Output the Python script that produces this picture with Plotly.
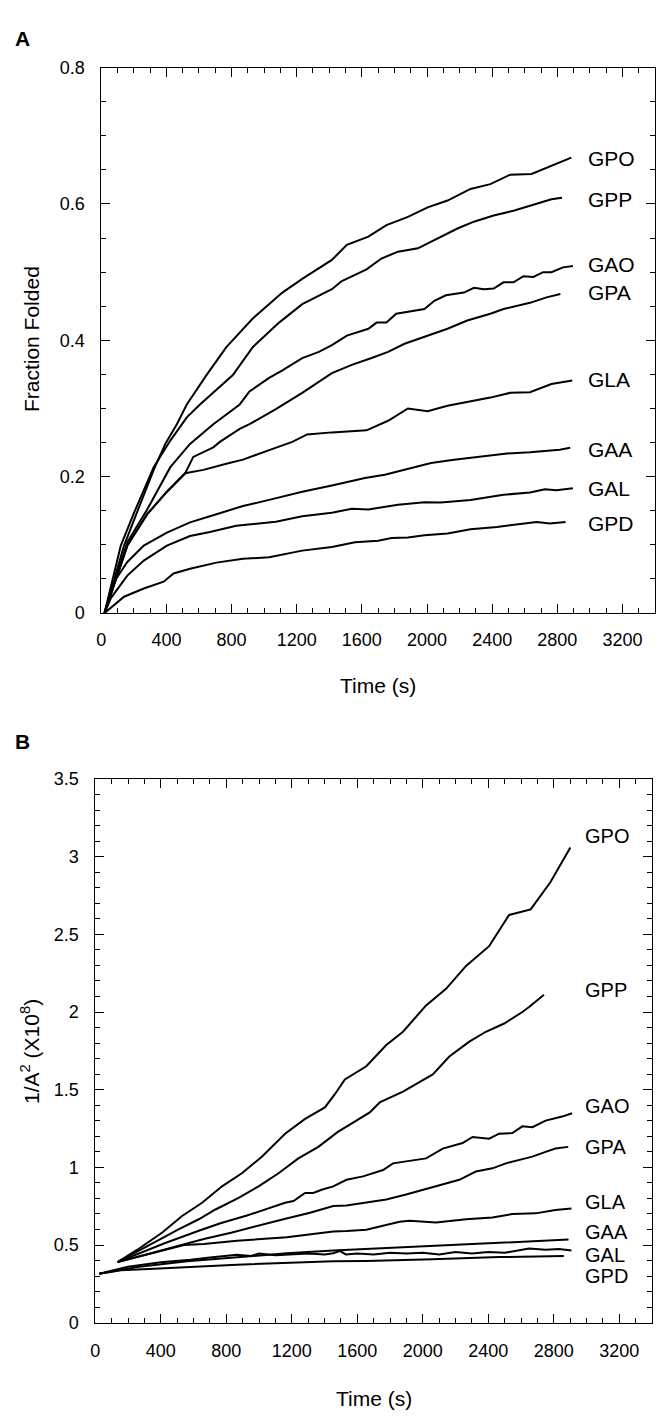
import plotly.graph_objects as go

# ---------------- Panel A: Fraction folded vs time ----------------
names = ["GPO", "GPP", "GAO", "GPA", "GLA", "GAA", "GAL", "GPD"]

a_gpo_t = [20, 140, 241, 322, 393, 464, 525, 646, 768, 930, 1112, 1234, 1416, 1508, 1640, 1751, 1883, 2004, 2126, 2267, 2389, 2511, 2642, 2754, 2886]
a_gpo_v = [0, 0.099, 0.161, 0.21, 0.248, 0.277, 0.306, 0.349, 0.390, 0.432, 0.470, 0.49, 0.518, 0.540, 0.552, 0.569, 0.581, 0.595, 0.605, 0.622, 0.629, 0.643, 0.644, 0.655, 0.668]

a_gpp_t = [20, 120, 201, 322, 424, 525, 606, 808, 930, 1092, 1234, 1416, 1477, 1629, 1720, 1822, 1944, 2065, 2187, 2288, 2409, 2531, 2642, 2764, 2829]
a_gpp_v = [0, 0.099, 0.147, 0.214, 0.253, 0.287, 0.306, 0.349, 0.390, 0.426, 0.453, 0.475, 0.487, 0.504, 0.520, 0.530, 0.535, 0.549, 0.564, 0.574, 0.583, 0.590, 0.598, 0.607, 0.609]

a_gao_t = [20, 160, 282, 424, 545, 688, 850, 910, 1031, 1112, 1234, 1336, 1416, 1508, 1640, 1690, 1751, 1811, 1984, 2045, 2116, 2227, 2288, 2349, 2409, 2470, 2531, 2592, 2653, 2713, 2764, 2835, 2896]
a_gao_v = [0, 0.104, 0.152, 0.214, 0.248, 0.277, 0.306, 0.325, 0.345, 0.356, 0.374, 0.383, 0.393, 0.407, 0.417, 0.426, 0.426, 0.439, 0.446, 0.458, 0.466, 0.470, 0.477, 0.475, 0.476, 0.485, 0.485, 0.494, 0.493, 0.500, 0.500, 0.507, 0.509]

a_gpa_t = [20, 160, 282, 403, 515, 565, 688, 728, 850, 910, 1072, 1234, 1416, 1538, 1660, 1761, 1862, 2004, 2126, 2247, 2389, 2470, 2632, 2734, 2819]
a_gpa_v = [0, 0.099, 0.145, 0.178, 0.205, 0.229, 0.243, 0.251, 0.270, 0.277, 0.299, 0.323, 0.352, 0.364, 0.374, 0.383, 0.395, 0.407, 0.417, 0.429, 0.439, 0.446, 0.455, 0.463, 0.468]

a_gla_t = [20, 160, 282, 403, 515, 627, 768, 870, 1031, 1173, 1264, 1416, 1629, 1761, 1883, 2004, 2126, 2267, 2389, 2511, 2632, 2764, 2892]
a_gla_v = [0, 0.099, 0.145, 0.178, 0.205, 0.210, 0.219, 0.225, 0.239, 0.251, 0.262, 0.265, 0.268, 0.282, 0.300, 0.296, 0.304, 0.310, 0.316, 0.323, 0.324, 0.336, 0.341]

a_gaa_t = [20, 79, 160, 261, 403, 545, 707, 870, 1031, 1234, 1416, 1619, 1741, 1883, 2025, 2166, 2308, 2491, 2632, 2815, 2879]
a_gaa_v = [0, 0.046, 0.075, 0.099, 0.118, 0.133, 0.145, 0.157, 0.166, 0.178, 0.187, 0.198, 0.203, 0.212, 0.220, 0.225, 0.229, 0.234, 0.236, 0.2396, 0.2424]

a_gal_t = [20, 59, 160, 261, 403, 545, 667, 829, 1072, 1234, 1416, 1538, 1640, 1822, 1984, 2085, 2267, 2470, 2632, 2724, 2794, 2896]
a_gal_v = [0, 0.022, 0.055, 0.077, 0.099, 0.113, 0.119, 0.128, 0.134, 0.142, 0.147, 0.153, 0.152, 0.159, 0.1625, 0.162, 0.166, 0.1735, 0.177, 0.1817, 0.180, 0.183]

a_gpd_t = [20, 140, 261, 383, 444, 545, 707, 870, 1031, 1234, 1416, 1558, 1700, 1782, 1883, 1984, 2126, 2267, 2430, 2551, 2673, 2754, 2851]
a_gpd_v = [0, 0.024, 0.036, 0.046, 0.058, 0.065, 0.074, 0.0795, 0.082, 0.0916, 0.097, 0.1037, 0.106, 0.110, 0.111, 0.114, 0.1167, 0.123, 0.1264, 0.130, 0.1336, 0.1312, 0.1336]

a_label_t = 2975
a_label_v = [0.667, 0.606, 0.511, 0.470, 0.342, 0.240, 0.183, 0.1316]

# ---------------- Panel B: 1/A^2 vs time ----------------
b_gpo_t = [136, 257, 409, 530, 652, 774, 895, 1017, 1159, 1281, 1402, 1463, 1524, 1655, 1777, 1879, 2020, 2142, 2264, 2405, 2527, 2659, 2780, 2901]
b_gpo_v = [0.39, 0.47, 0.581, 0.687, 0.772, 0.878, 0.962, 1.069, 1.217, 1.312, 1.386, 1.471, 1.566, 1.651, 1.788, 1.873, 2.043, 2.149, 2.297, 2.424, 2.625, 2.661, 2.837, 3.059]

b_gpp_t = [136, 257, 511, 632, 734, 875, 997, 1119, 1240, 1362, 1479, 1676, 1737, 1879, 2061, 2162, 2284, 2385, 2497, 2608, 2649, 2740]
b_gpp_v = [0.39, 0.459, 0.602, 0.666, 0.729, 0.804, 0.878, 0.962, 1.058, 1.132, 1.227, 1.354, 1.418, 1.488, 1.598, 1.714, 1.809, 1.873, 1.926, 2.000, 2.032, 2.111]

b_gao_t = [136, 257, 419, 632, 764, 926, 1037, 1159, 1210, 1281, 1331, 1382, 1453, 1534, 1635, 1757, 1818, 1919, 2020, 2122, 2243, 2304, 2405, 2466, 2547, 2608, 2669, 2750, 2851, 2912]
b_gao_v = [0.39, 0.44, 0.51, 0.592, 0.640, 0.690, 0.729, 0.772, 0.783, 0.835, 0.835, 0.856, 0.878, 0.920, 0.942, 0.983, 1.026, 1.041, 1.058, 1.121, 1.157, 1.196, 1.185, 1.217, 1.221, 1.264, 1.259, 1.301, 1.327, 1.348]

b_gpa_t = [136, 257, 399, 541, 663, 835, 987, 1149, 1311, 1453, 1534, 1655, 1777, 1898, 2000, 2101, 2223, 2324, 2425, 2507, 2588, 2669, 2750, 2810, 2888]
b_gpa_v = [0.39, 0.425, 0.462, 0.507, 0.539, 0.581, 0.624, 0.666, 0.708, 0.751, 0.755, 0.772, 0.793, 0.825, 0.856, 0.888, 0.920, 0.973, 0.994, 1.026, 1.047, 1.069, 1.100, 1.121, 1.132]

b_gla_t = [136, 257, 399, 541, 663, 865, 1169, 1453, 1534, 1655, 1757, 1858, 1919, 2081, 2264, 2425, 2547, 2689, 2810, 2908]
b_gla_v = [0.39, 0.425, 0.462, 0.500, 0.507, 0.528, 0.550, 0.588, 0.590, 0.598, 0.624, 0.650, 0.656, 0.645, 0.666, 0.677, 0.700, 0.704, 0.725, 0.736]

b_gaa_t = [24, 257, 561, 865, 1169, 1453, 1655, 1858, 2162, 2466, 2771, 2890]
b_gaa_v = [0.316, 0.359, 0.395, 0.422, 0.447, 0.465, 0.475, 0.486, 0.497, 0.513, 0.528, 0.535]

b_gal_t = [24, 200, 400, 582, 700, 865, 950, 1000, 1100, 1200, 1300, 1400, 1453, 1493, 1530, 1600, 1700, 1800, 1900, 2000, 2100, 2200, 2300, 2400, 2500, 2649, 2750, 2831, 2908]
b_gal_v = [0.316, 0.360, 0.390, 0.405, 0.420, 0.437, 0.430, 0.445, 0.435, 0.440, 0.445, 0.440, 0.447, 0.462, 0.440, 0.445, 0.440, 0.450, 0.445, 0.450, 0.440, 0.455, 0.445, 0.455, 0.450, 0.478, 0.470, 0.475, 0.465]

b_gpd_t = [24, 156, 358, 865, 1453, 1655, 2061, 2466, 2861]
b_gpd_v = [0.316, 0.338, 0.348, 0.374, 0.395, 0.397, 0.408, 0.4225, 0.429]

b_label_t = 2980
b_label_v = [3.133, 2.141, 1.397, 1.130, 0.777, 0.581, 0.438, 0.300]

x_tickvals = [0, 400, 800, 1200, 1600, 2000, 2400, 2800, 3200]

a_series = [(a_gpo_t, a_gpo_v), (a_gpp_t, a_gpp_v), (a_gao_t, a_gao_v), (a_gpa_t, a_gpa_v),
            (a_gla_t, a_gla_v), (a_gaa_t, a_gaa_v), (a_gal_t, a_gal_v), (a_gpd_t, a_gpd_v)]
b_series = [(b_gpo_t, b_gpo_v), (b_gpp_t, b_gpp_v), (b_gao_t, b_gao_v), (b_gpa_t, b_gpa_v),
            (b_gla_t, b_gla_v), (b_gaa_t, b_gaa_v), (b_gal_t, b_gal_v), (b_gpd_t, b_gpd_v)]

FONT = "Arial, Liberation Sans, Helvetica, sans-serif"
W, H = 658, 1419

fig = go.Figure()
for name, (t, v) in zip(names, a_series):
    fig.add_trace(go.Scatter(x=t, y=v, mode="lines", name=name,
                             line=dict(color="black", width=2), xaxis="x", yaxis="y"))
for name, (t, v) in zip(names, b_series):
    fig.add_trace(go.Scatter(x=t, y=v, mode="lines", name=name,
                             line=dict(color="black", width=2), xaxis="x2", yaxis="y2"))

def px_x(p):
    return p / W

def px_y(p):
    return 1 - p / H

common_axis = dict(
    showline=True, linecolor="black", linewidth=1, mirror="allticks",
    ticks="inside", ticklen=9, tickwidth=1, tickcolor="black",
    showgrid=False, zeroline=False,
    tickfont=dict(family=FONT, size=18, color="black"),
)

fig.update_layout(
    width=W, height=H,
    margin=dict(l=0, r=0, t=0, b=0),
    paper_bgcolor="white", plot_bgcolor="white",
    showlegend=False,
    font=dict(family=FONT, color="black"),
    xaxis=dict(common_axis, domain=[px_x(97), px_x(655)], range=[0, 3400],
               tickvals=x_tickvals, ticklabelstandoff=10,
               minor=dict(dtick=100, tick0=0, ticks="inside", ticklen=5, tickcolor="black", showgrid=False),
               anchor="y"),
    yaxis=dict(common_axis, domain=[px_y(611.7), px_y(58.4)], range=[0, 0.8],
               dtick=0.2, tick0=0, ticklabelstandoff=12,
               minor=dict(dtick=0.05, tick0=0, ticks="inside", ticklen=5, tickcolor="black", showgrid=False),
               anchor="x"),
    xaxis2=dict(common_axis, domain=[px_x(91), px_x(652)], range=[0, 3400],
                tickvals=x_tickvals, ticklabelstandoff=12,
                minor=dict(dtick=100, tick0=0, ticks="inside", ticklen=5, tickcolor="black", showgrid=False),
                anchor="y2"),
    yaxis2=dict(common_axis, domain=[px_y(1331.5), px_y(780)], range=[0, 3.5],
                dtick=0.5, tick0=0, ticklabelstandoff=12,
                minor=dict(dtick=0.1, tick0=0, ticks="inside", ticklen=5, tickcolor="black", showgrid=False),
                anchor="x2"),
)

annotations = []
for name, v in zip(names, a_label_v):
    annotations.append(dict(x=a_label_t, y=v, xref="x", yref="y", text=name, showarrow=False,
                            xanchor="left", yanchor="middle",
                            font=dict(family=FONT, size=21, color="black")))
for name, v in zip(names, b_label_v):
    annotations.append(dict(x=b_label_t, y=v, xref="x2", yref="y2", text=name, showarrow=False,
                            xanchor="left", yanchor="middle",
                            font=dict(family=FONT, size=20, color="black")))

title_font = dict(family=FONT, size=21, color="black")
annotations += [
    dict(x=px_x(376), y=px_y(685), xref="paper", yref="paper", text="Time (s)", showarrow=False,
         xanchor="center", yanchor="middle", font=title_font),
    dict(x=px_x(26), y=px_y(334), xref="paper", yref="paper", text="Fraction Folded", showarrow=False,
         textangle=-90, xanchor="center", yanchor="middle", font=title_font),
    dict(x=px_x(372), y=px_y(1408), xref="paper", yref="paper", text="Time (s)", showarrow=False,
         xanchor="center", yanchor="middle", font=title_font),
    dict(x=px_x(25), y=px_y(1056), xref="paper", yref="paper",
         text="1/A<sup>2</sup> (X10<sup>8</sup>)", showarrow=False,
         textangle=-90, xanchor="center", yanchor="middle", font=title_font),
    dict(x=px_x(8), y=px_y(29), xref="paper", yref="paper", text="<b>A</b>", showarrow=False,
         xanchor="left", yanchor="middle", font=dict(family=FONT, size=21, color="black")),
    dict(x=px_x(8), y=px_y(742), xref="paper", yref="paper", text="<b>B</b>", showarrow=False,
         xanchor="left", yanchor="middle", font=dict(family=FONT, size=21, color="black")),
]
fig.update_layout(annotations=annotations)

fig.write_html("out.html")
